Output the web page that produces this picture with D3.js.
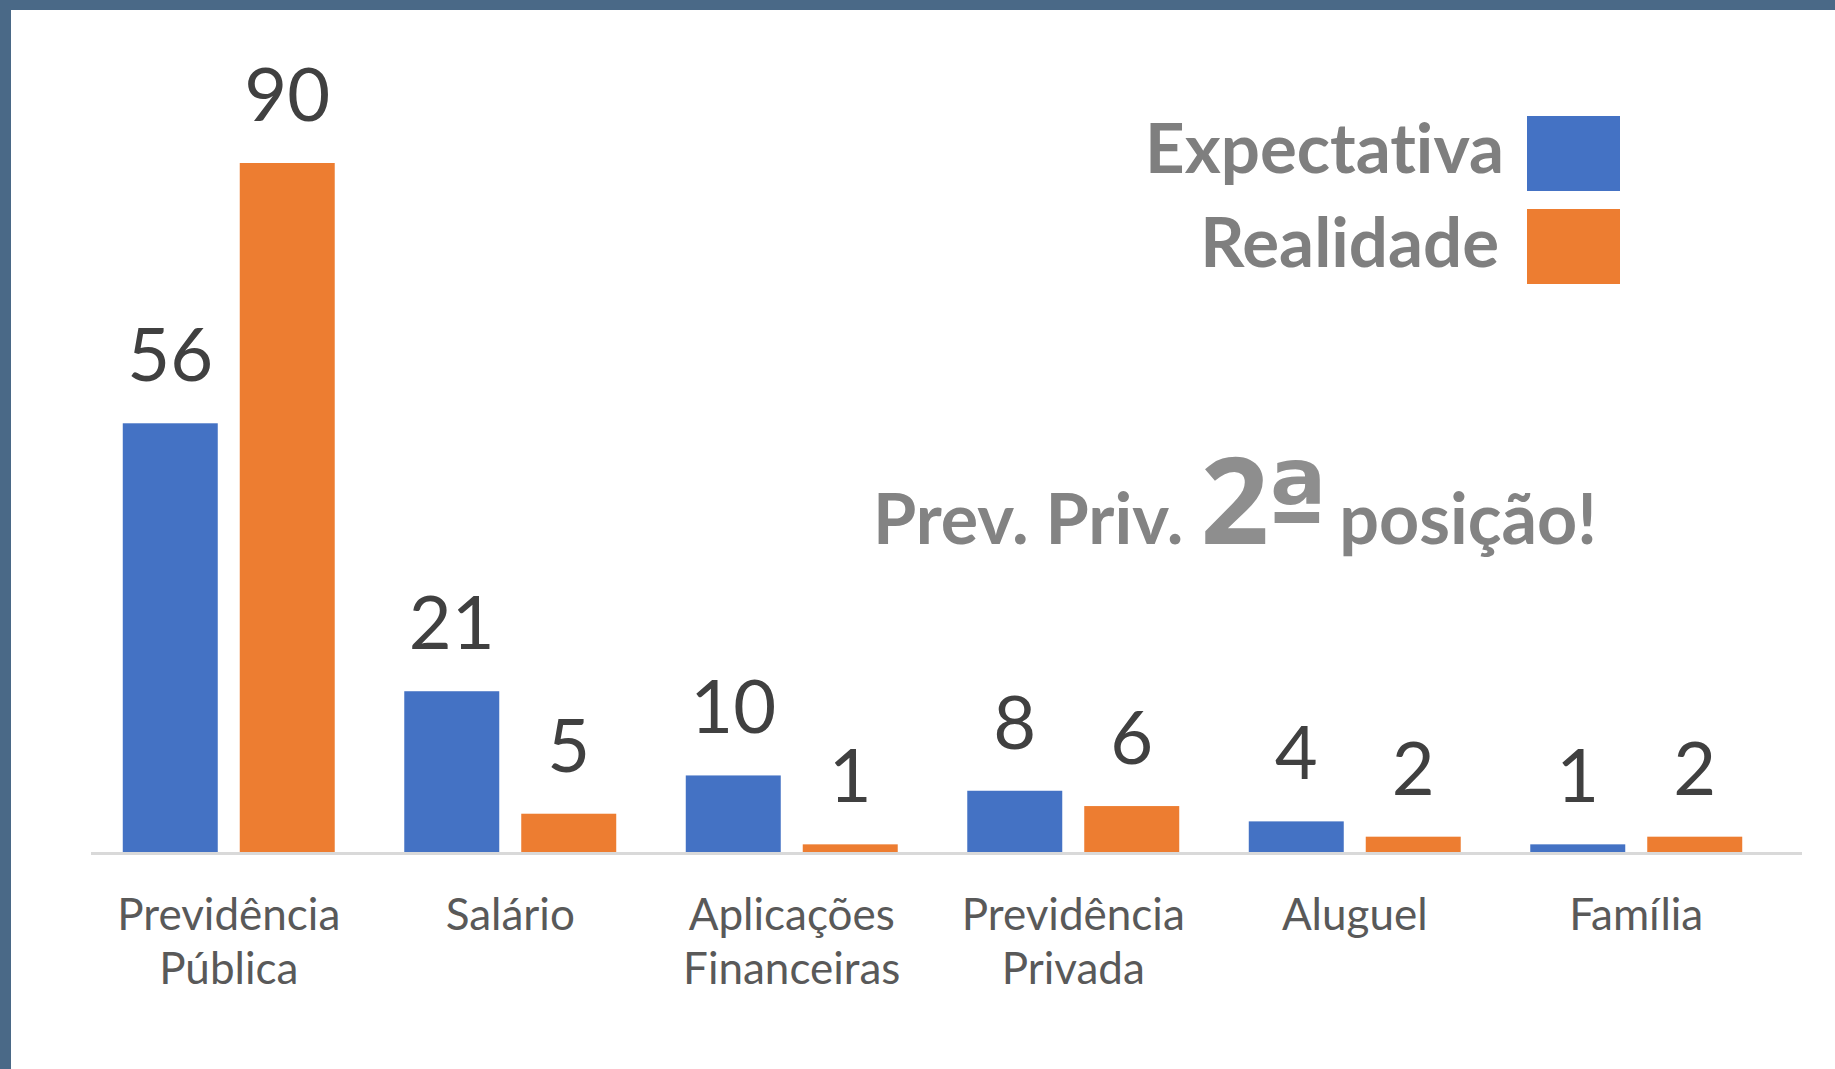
<!DOCTYPE html>
<html>
<head>
<meta charset="utf-8">
<script src="https://cdn.jsdelivr.net/npm/d3@7"></script>
<style>
  body { margin: 0; background: #4a6987; }
  svg { display: block; }
  text { font-variant-ligatures: none; font-feature-settings: "liga" 0, "clig" 0; }
  .cat-label { font-family: Lato, sans-serif; font-size: 44px; fill: #595959; }
  .value-label { font-family: Lato, sans-serif; font-size: 74px; fill: #404040; }
  .legend-text { font-family: Lato, sans-serif; font-weight: bold; font-size: 69px; fill: #7f7f7f; }
  .note { font-family: Lato, sans-serif; font-weight: bold; fill: #838383; }
</style>
</head>
<body>
<svg width="1835" height="1069"></svg>
<script>
(function (d3) {
  'use strict';

  // categories, one entry per line of the axis label
  const categories = [
    ['Previdência', 'Pública'],
    ['Salário'],
    ['Aplicações', 'Financeiras'],
    ['Previdência', 'Privada'],
    ['Aluguel'],
    ['Família']
  ];
  const series = ['Expectativa', 'Realidade'];
  const expectativa = [56, 21, 10, 8, 4, 1];
  const realidade = [90, 5, 1, 6, 2, 2];
  const colors = ['#4472c4', '#ed7d31'];

  const svg = d3.select('svg');
  const width = +svg.attr('width');
  const height = +svg.attr('height');

  // frame + white panel
  svg.append('rect')
    .attr('width', width).attr('height', height)
    .attr('fill', '#4a6987');
  svg.append('rect')
    .attr('x', 11).attr('y', 10)
    .attr('width', width - 11).attr('height', height - 10)
    .attr('fill', '#ffffff');

  const catKeys = categories.map(c => c.join(' '));
  const data = catKeys.map((k, i) => ({
    key: k,
    lines: categories[i],
    values: [expectativa[i], realidade[i]]
  }));

  const x0 = d3.scaleBand()
    .domain(catKeys)
    .range([88, 1777])
    .paddingInner(0.247)
    .paddingOuter(0.1235);

  const x1 = d3.scaleBand()
    .domain(series)
    .range([0, x0.bandwidth()])
    .paddingInner(0.188);

  const yScale = d3.scaleLinear()
    .domain([0, 90])
    .range([852, 163]);

  const color = d3.scaleOrdinal().domain(series).range(colors);

  // baseline
  svg.append('line')
    .attr('x1', 91).attr('x2', 1802)
    .attr('y1', yScale(0) + 1.5).attr('y2', yScale(0) + 1.5)
    .attr('stroke', '#d9d9d9')
    .attr('stroke-width', 3);

  const groups = svg.selectAll('.group').data(data)
    .enter().append('g')
      .attr('class', 'group')
      .attr('transform', d => `translate(${x0(d.key)},0)`);

  const cells = groups.selectAll('.cell')
    .data(d => d.values.map((v, j) => ({ s: series[j], v })))
    .enter().append('g')
      .attr('class', 'cell');

  cells.append('rect')
    .attr('x', d => x1(d.s))
    .attr('y', d => yScale(d.v))
    .attr('width', x1.bandwidth())
    .attr('height', d => yScale(0) - yScale(d.v))
    .attr('fill', d => color(d.s));

  cells.append('text')
    .attr('class', 'value-label')
    .attr('x', d => x1(d.s) + x1.bandwidth() / 2)
    .attr('y', d => yScale(d.v) - 42)
    .attr('text-anchor', 'middle')
    .text(d => d.v);

  // category labels
  groups.append('text')
    .attr('class', 'cat-label')
    .attr('text-anchor', 'middle')
    .attr('x', x0.bandwidth() / 2)
    .attr('y', 930)
    .selectAll('tspan')
    .data(d => d.lines)
    .enter().append('tspan')
      .attr('x', x0.bandwidth() / 2)
      .attr('dy', (d, i) => i === 0 ? 0 : 54)
      .text(d => d);

  // legend
  const legend = svg.append('g').attr('class', 'legend');
  const legendItem = legend.selectAll('g').data(series)
    .enter().append('g')
      .attr('transform', (d, i) => `translate(0,${i * 93})`);
  legendItem.append('rect')
    .attr('x', 1527).attr('y', 116)
    .attr('width', 93).attr('height', 75)
    .attr('fill', d => color(d));
  legendItem.append('text')
    .attr('class', 'legend-text')
    .attr('x', (d, i) => i === 0 ? 1504 : 1499)
    .attr('y', (d, i) => i === 0 ? 173 : 174)
    .attr('text-anchor', 'end')
    .text(d => d);

  // annotation
  const note = svg.append('text')
    .attr('class', 'note')
    .attr('x', 873)
    .attr('y', 544);
  note.append('tspan').attr('font-size', 70).text('Prev. Priv. ');
  note.append('tspan')
    .attr('font-size', 120)
    .attr('font-family', '"Open Sans", sans-serif')
    .attr('fill', '#8e8e8e')
    .text('2');
  note.append('tspan')
    .attr('font-size', 112)
    .attr('font-family', '"DejaVu Sans", sans-serif')
    .attr('fill', '#8e8e8e')
    .attr('dx', -4)
    .text('ª');
  note.append('tspan').attr('font-size', 70).attr('dx', -6).text(' posição!');

}(d3));
</script>
</body>
</html>
